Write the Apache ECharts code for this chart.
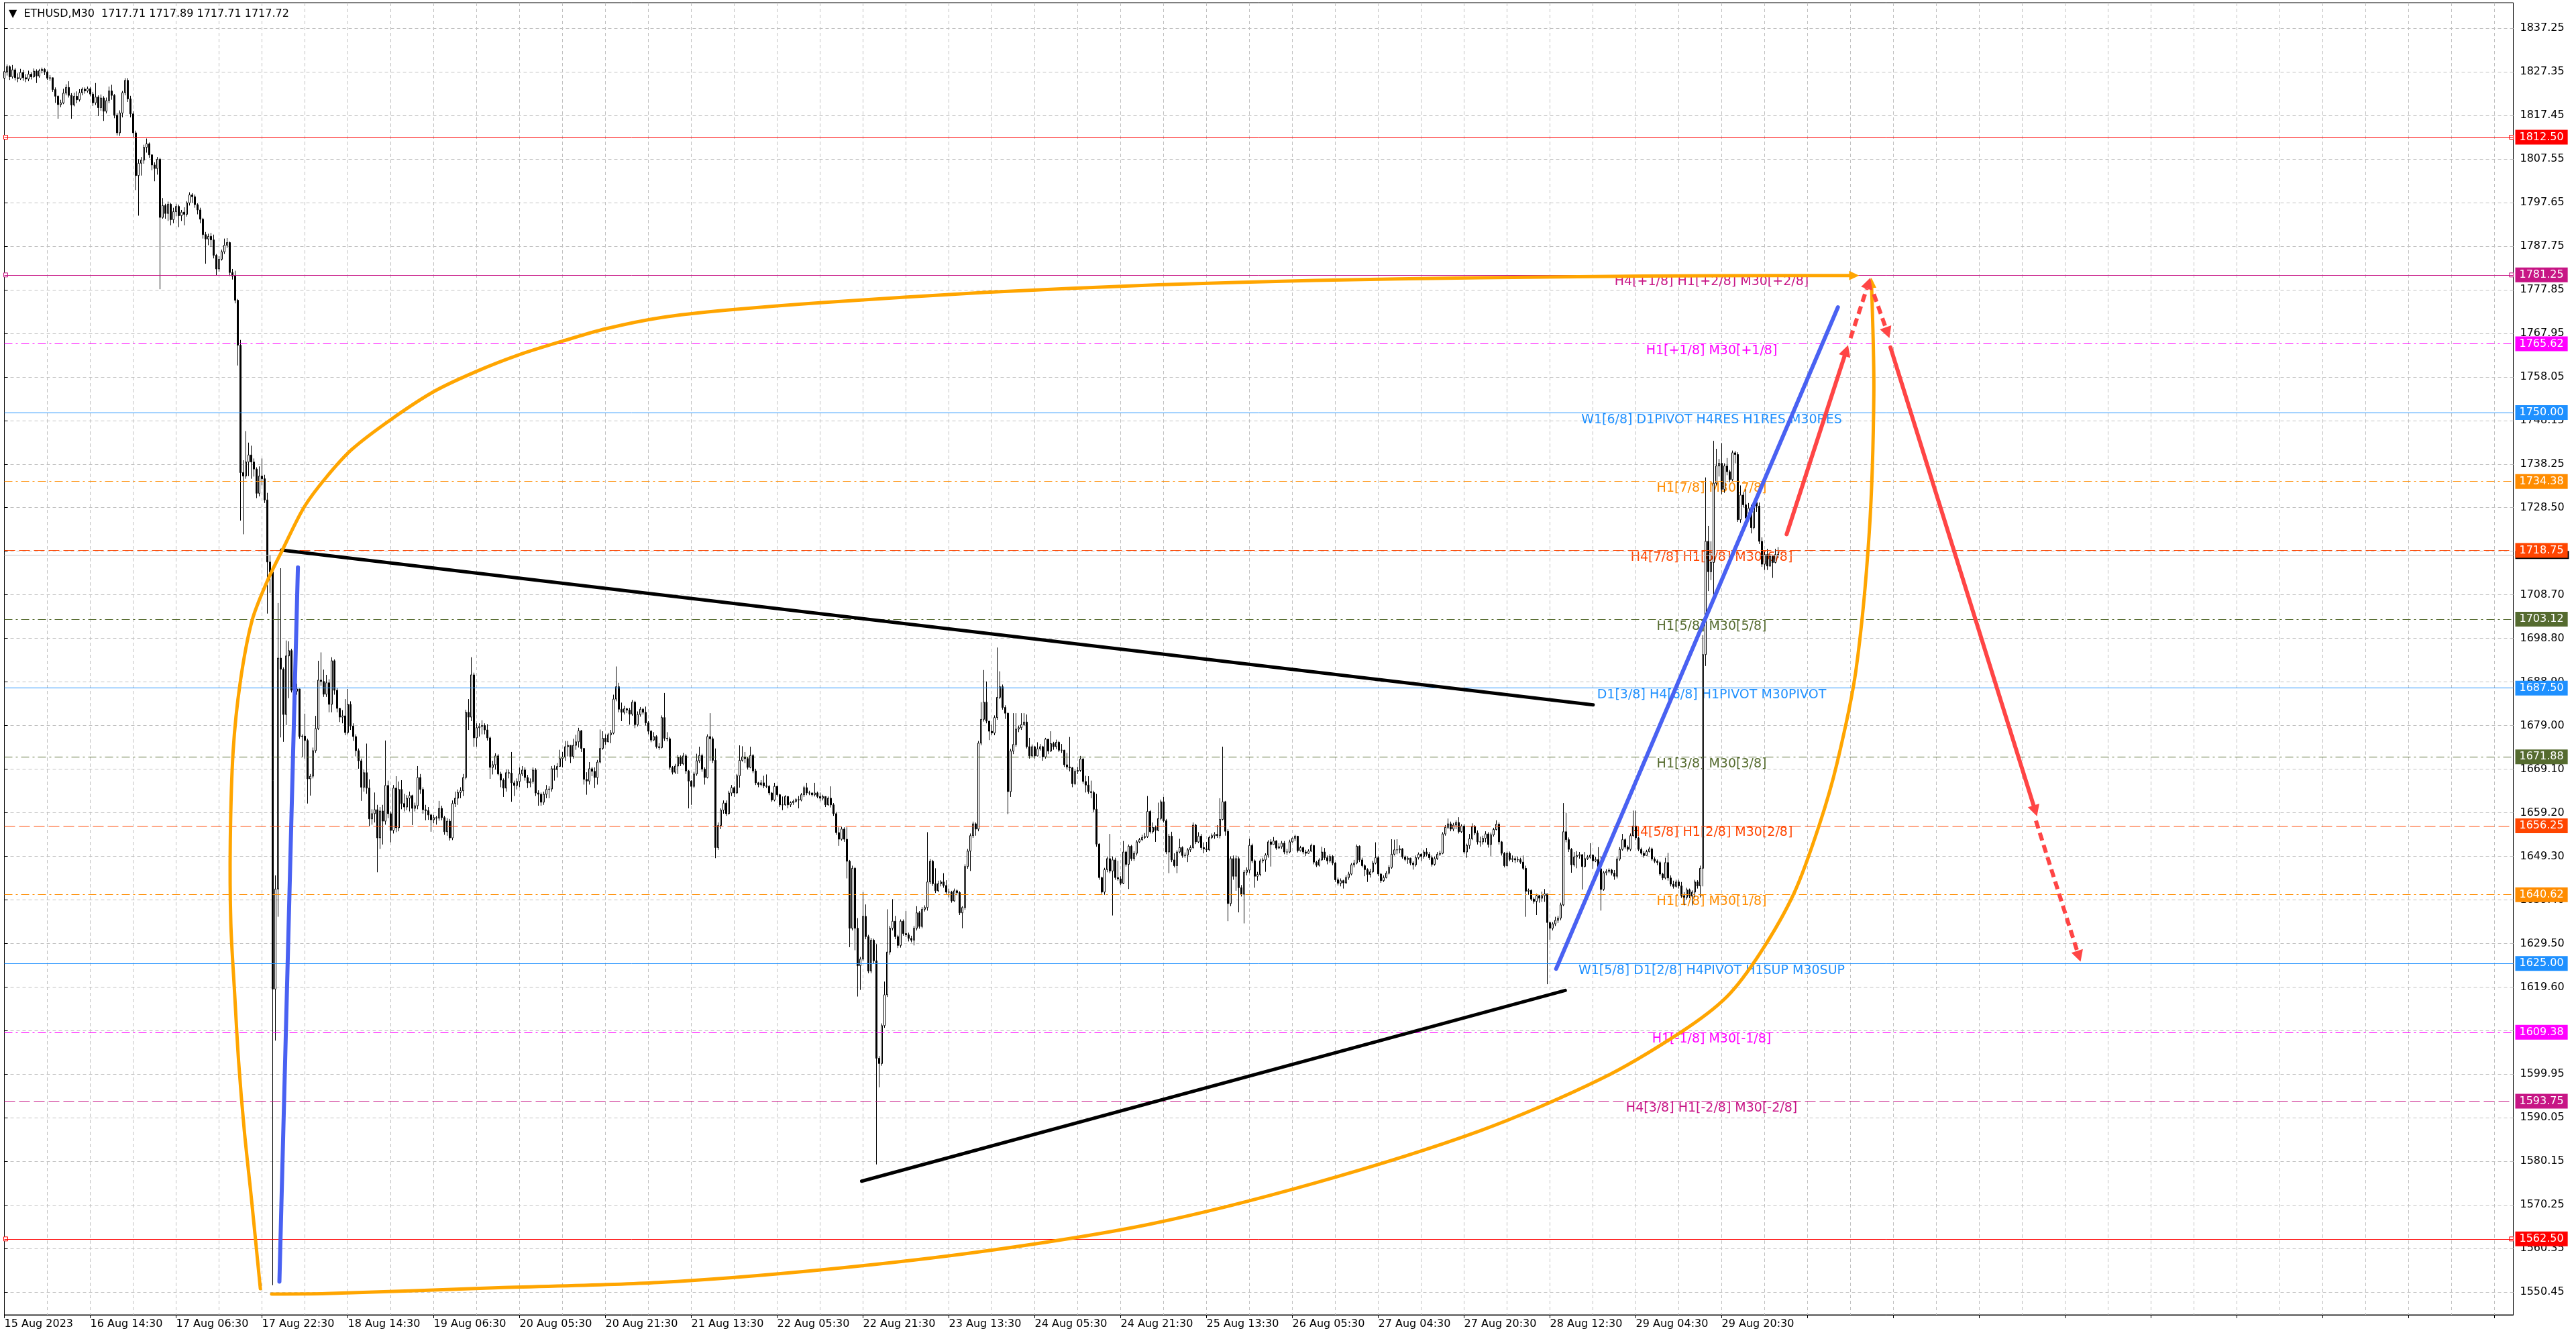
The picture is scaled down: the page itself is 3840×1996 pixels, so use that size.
<!DOCTYPE html>
<html><head><meta charset="utf-8">
<script src="https://cdn.jsdelivr.net/npm/echarts@6/dist/echarts.min.js"></script>
<style>html,body{margin:0;padding:0;background:#fff;}#c{width:3840px;height:1996px;}</style>
</head><body><div id="c"></div>
<script>
// ---------------- data ----------------
const tickLabels = ['15 Aug 2023','16 Aug 14:30','17 Aug 06:30','17 Aug 22:30','18 Aug 14:30','19 Aug 06:30','20 Aug 05:30','20 Aug 21:30','21 Aug 13:30','22 Aug 05:30','22 Aug 21:30','23 Aug 13:30','24 Aug 05:30','24 Aug 21:30','25 Aug 13:30','26 Aug 05:30','27 Aug 04:30','27 Aug 20:30','28 Aug 12:30','29 Aug 04:30','29 Aug 20:30'];
const yTicks = [1550.45,1560.35,1570.25,1580.15,1590.05,1599.95,1609.85,1619.60,1629.50,1639.40,1649.30,1659.20,1669.10,1679.00,1688.90,1698.80,1708.70,1718.60,1728.50,1738.25,1748.15,1758.05,1767.95,1777.85,1787.75,1797.65,1807.55,1817.45,1827.35,1837.25];
const firstOpen = 1825.9;
const closes = [1827.4,1828.5,1826.2,1827.8,1826.0,1825.8,1827.2,1826.0,1825.7,1826.8,1826.2,1827.5,1826.4,1827.6,1827.9,1827.3,1825.9,1826.0,1823.3,1821.8,
1819.9,1820.3,1822.5,1823.8,1822.0,1819.8,1821.8,1821.0,1822.6,1823.4,1823.0,1823.5,1822.3,1820.3,1821.6,1819.2,1821.4,1818.4,1820.8,1823.0,
1822.0,1817.5,1813.5,1818.0,1822.6,1825.4,1821.2,1817.8,1813.5,1803.8,1806.6,1807.3,1810.2,1811.0,1808.5,1806.2,1805.4,1807.5,1794.3,1797.0,
1795.2,1797.3,1793.8,1795.6,1796.8,1794.7,1795.5,1795.0,1797.6,1799.4,1799.0,1797.2,1796.0,1793.9,1790.4,1789.4,1790.0,1789.2,1785.7,1782.6,
1784.8,1786.5,1788.0,1788.6,1781.8,1781.0,1775.5,1765.3,1736.4,1735.6,1738.8,1740.4,1738.8,1737.2,1731.7,1735.6,1735.0,1730.2,1716.1,1713.8,
1619.2,1641.9,1694.3,1691.8,1681.5,1694.8,1696.0,1687.0,1686.8,1687.3,1676.5,1676.6,1675.6,1666.9,1667.5,1673.3,1678.3,1689.3,1689.0,1686.1,
1688.7,1683.8,1693.7,1687.0,1682.9,1680.9,1681.2,1677.4,1683.8,1678.9,1676.5,1673.3,1671.0,1665.0,1668.3,1664.8,1657.8,1659.0,1659.9,1653.5,
1659.6,1657.3,1665.4,1659.0,1655.2,1664.8,1655.8,1664.5,1661.3,1660.5,1662.5,1663.1,1660.2,1660.8,1667.2,1664.5,1659.9,1659.7,1658.7,1657.6,
1658.1,1658.0,1660.2,1658.1,1654.9,1657.3,1653.5,1661.3,1662.5,1663.8,1664.2,1667.2,1682.0,1680.9,1690.5,1676.2,1678.5,1678.8,1679.0,1678.0,
1676.2,1669.5,1670.1,1672.1,1668.0,1666.6,1664.8,1668.3,1668.2,1666.0,1665.4,1666.3,1668.0,1668.9,1667.2,1666.0,1666.3,1668.9,1663.7,1663.4,
1661.6,1663.4,1664.5,1664.6,1669.2,1669.0,1669.7,1671.5,1671.8,1674.2,1674.5,1672.0,1674.5,1675.3,1677.8,1673.8,1666.8,1666.4,1669.2,1668.6,
1667.2,1670.7,1673.8,1676.1,1675.3,1676.9,1677.3,1685.0,1687.8,1682.7,1682.0,1682.8,1682.5,1681.6,1684.3,1679.2,1681.5,1682.7,1682.0,1679.6,
1677.7,1675.7,1676.5,1674.2,1674.0,1680.8,1676.1,1676.0,1669.5,1668.4,1669.8,1671.8,1670.3,1672.1,1668.7,1666.4,1665.2,1668.0,1671.0,1672.2,
1669.1,1667.2,1676.5,1676.0,1671.1,1651.3,1656.3,1659.8,1661.4,1659.0,1663.7,1664.9,1663.7,1667.6,1671.1,1671.9,1671.5,1669.5,1672.2,1668.7,
1666.0,1665.6,1666.0,1665.3,1665.2,1663.7,1662.1,1665.2,1663.3,1661.0,1661.0,1662.9,1661.0,1661.5,1661.8,1662.2,1662.1,1663.3,1664.9,1663.7,
1663.7,1663.3,1663.7,1662.9,1662.5,1662.9,1661.0,1662.5,1661.0,1659.0,1654.7,1653.2,1655.5,1653.2,1648.2,1633.0,1646.6,1633.0,1624.5,1626.0,
1635.7,1631.1,1623.3,1630.3,1625.6,1603.5,1602.3,1610.9,1617.9,1627.6,1633.0,1634.6,1631.1,1629.1,1634.6,1631.8,1631.5,1630.7,1630.3,1633.0,
1636.5,1633.4,1637.3,1637.7,1643.5,1648.2,1643.1,1641.5,1643.1,1643.5,1642.7,1641.2,1641.2,1639.2,1641.5,1641.1,1636.5,1637.7,1647.0,1650.5,
1654.0,1656.7,1655.5,1675.0,1680.4,1684.3,1680.0,1677.7,1677.3,1680.8,1685.4,1687.8,1683.1,1681.8,1664.0,1673.2,1674.7,1678.2,1678.5,1679.2,
1679.8,1674.2,1672.1,1674.2,1672.1,1673.7,1674.2,1671.9,1675.9,1673.2,1674.9,1674.2,1675.2,1673.4,1673.4,1670.1,1669.6,1669.4,1665.8,1668.6,
1668.8,1671.4,1666.3,1665.5,1664.0,1663.8,1660.0,1652.1,1644.5,1641.2,1646.3,1648.8,1646.0,1648.5,1644.5,1644.2,1643.2,1650.3,1647.5,1651.6,
1648.8,1650.0,1652.6,1653.1,1653.6,1653.8,1659.5,1654.9,1655.9,1655.2,1657.9,1661.7,1657.4,1650.3,1653.9,1648.5,1647.2,1650.3,1651.3,1649.5,
1649.6,1650.8,1651.3,1656.4,1652.6,1653.9,1651.3,1651.0,1650.8,1653.6,1654.0,1654.3,1654.0,1657.7,1661.7,1655.0,1638.6,1648.8,1644.8,1648.8,
1642.2,1640.7,1645.7,1646.2,1651.8,1648.3,1644.8,1645.2,1648.3,1648.5,1649.6,1652.6,1652.0,1652.8,1651.2,1651.5,1652.3,1650.3,1650.3,1652.6,
1653.4,1653.9,1650.6,1651.3,1650.3,1650.0,1650.5,1651.8,1648.0,1647.3,1648.5,1650.3,1649.0,1648.3,1649.3,1647.8,1644.0,1643.2,1643.8,1643.3,
1644.5,1645.3,1647.4,1647.8,1651.6,1648.5,1647.2,1646.3,1645.2,1645.8,1647.8,1649.0,1645.3,1643.8,1644.5,1645.5,1646.8,1649.8,1650.8,1650.8,
1651.0,1649.2,1648.6,1648.9,1647.8,1647.4,1649.0,1649.8,1649.3,1650.3,1649.8,1649.0,1647.5,1648.8,1649.8,1650.0,1654.4,1655.9,1656.7,1655.5,
1656.4,1657.0,1654.9,1656.2,1650.3,1651.8,1653.3,1656.0,1654.6,1652.6,1652.6,1653.4,1654.4,1652.0,1654.2,1655.4,1656.6,1652.6,1650.0,1647.2,
1650.0,1648.6,1648.8,1648.5,1648.6,1648.0,1646.6,1641.4,1641.6,1639.6,1639.1,1640.4,1639.8,1640.4,1640.8,1634.3,1633.0,1634.0,1634.8,1635.3,
1638.3,1654.9,1653.1,1650.9,1647.4,1649.2,1649.5,1649.7,1647.0,1648.8,1649.1,1649.6,1648.3,1648.6,1646.5,1641.8,1645.6,1645.9,1646.2,1645.5,
1644.8,1648.7,1650.9,1653.1,1651.4,1650.9,1654.0,1656.2,1653.5,1650.9,1650.0,1649.5,1650.4,1651.0,1648.7,1648.2,1647.9,1645.3,1644.4,1647.9,
1644.4,1643.0,1642.5,1643.5,1642.6,1640.4,1640.0,1641.7,1640.3,1641.2,1643.5,1642.6,1646.6,1695.1,1720.8,1713.9,1716.0,1734.0,1737.9,1738.5,
1732.6,1737.9,1736.6,1734.8,1740.9,1740.5,1725.7,1731.3,1729.1,1726.1,1728.3,1723.9,1729.6,1728.8,1720.8,1715.6,1717.8,1715.2,1717.4,1716.0,1717.8,1717.72];
const highs = [1828.6,1829.0,1828.8,1828.9,1828.2,1827.0,1828.0,1827.8,1826.8,1827.6,1827.2,1828.1,1827.9,1828.0,1828.3,1828.2,1827.6,1826.6,1826.0,1823.8,
1822.0,1821.0,1823.5,1824.5,1825.2,1822.5,1822.6,1822.9,1823.4,1823.8,1823.8,1824.0,1823.9,1822.8,1824.8,1822.0,1822.2,1821.8,1821.5,1824.0,
1824.4,1822.3,1818.0,1818.6,1823.0,1825.9,1825.9,1821.9,1818.4,1814.0,1807.5,1808.0,1810.8,1812.2,1811.3,1808.6,1806.8,1808.0,1807.8,1798.7,
1797.4,1797.9,1797.6,1796.5,1797.4,1797.2,1796.0,1796.6,1798.0,1800.0,1799.8,1799.5,1797.5,1796.5,1794.2,1791.0,1790.6,1790.8,1790.4,1786.0,
1785.5,1787.0,1789.5,1789.6,1788.8,1782.6,1782.2,1775.8,1766.5,1739.2,1745.8,1743.2,1742.5,1739.6,1737.6,1737.8,1739.6,1735.9,1731.8,1717.6,
1714.6,1645.0,1706.8,1714.7,1692.2,1698.3,1698.1,1696.4,1688.0,1688.5,1687.0,1677.0,1681.7,1676.0,1668.0,1674.0,1681.2,1693.7,1695.6,1691.7,
1690.5,1689.5,1694.5,1694.0,1687.5,1683.0,1682.5,1685.0,1687.3,1684.5,1679.5,1677.0,1673.8,1671.5,1669.0,1674.9,1666.8,1660.0,1663.8,1661.0,
1660.5,1661.0,1675.6,1666.5,1659.5,1665.5,1667.5,1666.3,1666.6,1663.5,1663.2,1664.0,1663.3,1661.5,1669.8,1668.0,1665.0,1661.0,1660.5,1659.0,
1658.7,1658.5,1661.9,1660.8,1658.5,1658.0,1657.8,1662.0,1664.0,1664.5,1665.0,1668.0,1682.6,1685.0,1694.5,1691.0,1679.5,1679.5,1680.2,1679.5,
1679.3,1676.5,1671.0,1672.7,1672.5,1668.5,1667.0,1669.0,1669.0,1673.0,1666.5,1667.0,1669.5,1669.8,1669.5,1667.8,1667.0,1669.5,1669.3,1664.3,
1663.8,1664.0,1665.5,1665.2,1669.8,1670.0,1670.5,1673.5,1673.0,1675.5,1675.5,1673.5,1676.0,1676.9,1678.5,1678.0,1673.9,1668.4,1670.7,1669.6,
1669.5,1671.2,1678.1,1677.7,1677.0,1677.3,1678.0,1686.0,1692.4,1688.7,1684.2,1683.5,1683.0,1683.0,1684.8,1684.6,1682.2,1683.2,1683.0,1683.3,
1680.0,1678.0,1677.5,1676.8,1675.0,1681.3,1686.4,1677.5,1676.4,1669.8,1670.3,1672.3,1672.2,1672.8,1672.5,1668.9,1666.6,1668.5,1672.6,1674.2,
1672.6,1669.5,1677.0,1681.8,1676.5,1673.8,1657.0,1660.2,1662.0,1662.0,1664.2,1665.5,1665.2,1668.0,1674.5,1674.3,1673.0,1671.8,1674.2,1672.5,
1669.2,1666.2,1666.6,1667.6,1667.9,1665.5,1663.9,1666.0,1665.4,1663.5,1662.9,1663.2,1661.5,1661.8,1662.2,1662.5,1663.0,1663.7,1665.3,1666.0,
1664.2,1663.8,1666.0,1664.0,1663.8,1663.3,1662.6,1662.9,1665.2,1661.4,1659.4,1655.9,1656.0,1655.9,1655.9,1648.5,1647.2,1646.9,1635.3,1626.5,
1641.2,1638.4,1631.5,1630.8,1630.6,1629.4,1604.0,1611.4,1620.9,1637.3,1633.5,1639.6,1635.8,1631.5,1635.0,1635.0,1636.9,1632.0,1631.3,1633.5,
1638.0,1636.9,1637.8,1638.2,1654.8,1648.7,1648.5,1646.6,1643.8,1643.9,1645.5,1643.9,1642.0,1641.5,1642.0,1641.8,1641.4,1638.0,1647.5,1651.0,
1654.5,1657.2,1657.0,1675.5,1684.3,1691.6,1689.0,1680.0,1679.2,1681.3,1696.7,1691.3,1688.3,1683.6,1681.9,1673.7,1681.8,1681.8,1679.0,1681.8,
1681.8,1681.5,1676.2,1674.7,1674.3,1675.2,1674.8,1674.4,1676.2,1675.8,1677.7,1675.3,1675.8,1675.5,1674.8,1673.5,1672.8,1676.4,1669.6,1669.0,
1669.6,1672.1,1671.6,1667.6,1667.5,1666.5,1664.2,1663.5,1652.3,1644.7,1646.7,1649.3,1654.4,1649.3,1649.0,1648.3,1644.8,1652.8,1650.6,1652.0,
1651.9,1650.5,1653.0,1653.5,1654.2,1654.6,1663.0,1659.8,1657.0,1656.3,1661.5,1662.2,1662.8,1657.8,1654.4,1654.9,1650.0,1650.7,1653.3,1651.6,
1650.2,1651.2,1651.8,1657.0,1656.7,1654.8,1654.4,1652.5,1652.6,1654.0,1654.5,1654.8,1656.4,1662.5,1674.2,1661.9,1655.5,1649.3,1649.5,1649.5,
1649.2,1642.8,1646.2,1646.8,1653.3,1652.2,1648.6,1645.8,1648.8,1649.0,1650.0,1653.0,1653.2,1653.7,1653.0,1652.3,1652.8,1652.8,1651.0,1653.1,
1653.6,1654.2,1653.9,1651.7,1651.5,1650.8,1650.9,1652.2,1649.0,1648.3,1648.9,1651.5,1651.2,1649.5,1649.8,1649.6,1648.0,1644.5,1644.3,1644.0,
1645.0,1645.8,1647.8,1648.5,1652.0,1651.8,1649.0,1647.5,1646.6,1646.5,1648.3,1652.5,1649.4,1645.5,1645.0,1646.0,1647.3,1653.2,1653.1,1653.2,
1651.8,1651.2,1649.5,1649.3,1649.0,1648.2,1649.5,1650.2,1650.0,1650.8,1651.2,1650.3,1649.5,1649.3,1650.3,1650.6,1654.8,1656.4,1657.9,1657.2,
1656.9,1657.5,1658.2,1656.6,1656.6,1652.2,1654.4,1656.8,1656.4,1655.2,1653.8,1654.0,1655.0,1654.8,1654.7,1655.8,1657.5,1657.0,1652.8,1650.3,
1650.4,1650.4,1649.5,1649.2,1649.3,1649.0,1649.5,1647.2,1642.0,1641.8,1640.0,1640.8,1640.6,1641.3,1641.9,1640.8,1634.5,1634.4,1635.6,1635.8,
1638.8,1661.4,1659.2,1653.6,1651.2,1650.3,1650.5,1650.3,1649.8,1650.3,1649.6,1652.3,1649.8,1649.2,1651.4,1649.3,1646.0,1646.4,1646.6,1646.5,
1646.2,1649.2,1651.4,1654.4,1653.4,1651.8,1654.5,1659.7,1659.7,1653.8,1651.3,1650.5,1650.8,1651.5,1651.3,1649.1,1648.6,1648.3,1645.6,1649.0,
1650.1,1645.0,1643.8,1644.0,1644.0,1643.5,1641.2,1642.2,1642.0,1641.6,1644.0,1643.9,1647.2,1699.5,1735.3,1724.3,1720.8,1743.6,1741.8,1739.5,
1743.1,1738.5,1739.7,1737.0,1741.4,1741.3,1741.0,1733.5,1732.0,1732.6,1729.5,1729.1,1730.2,1730.0,1729.6,1721.7,1718.4,1719.1,1717.9,1717.2,1719.1,1719.5];
const lows = [1820.0,1826.5,1825.5,1825.8,1825.4,1825.0,1825.5,1825.3,1825.0,1825.2,1825.6,1826.0,1824.8,1826.0,1827.0,1826.6,1825.5,1825.3,1822.8,1820.3,
1816.7,1819.3,1820.0,1822.0,1821.5,1816.7,1819.5,1820.2,1820.6,1822.0,1822.4,1822.6,1821.8,1819.6,1819.8,1817.3,1818.5,1816.2,1817.9,1820.2,
1821.0,1816.8,1812.9,1812.8,1817.0,1822.0,1820.5,1817.0,1812.5,1800.5,1794.7,1803.8,1806.5,1809.0,1807.8,1805.0,1802.5,1804.0,1778.0,1794.0,
1794.0,1793.5,1792.5,1793.0,1794.6,1792.1,1793.5,1792.5,1794.5,1797.0,1797.6,1796.5,1795.0,1793.0,1789.5,1783.8,1788.0,1787.6,1785.0,1781.2,
1782.0,1784.5,1786.0,1787.4,1781.0,1780.2,1774.8,1760.7,1725.5,1722.4,1735.0,1735.6,1735.0,1735.5,1730.6,1731.0,1733.5,1729.5,1704.4,1709.1,
1552.0,1607.5,1635.6,1676.3,1675.3,1679.1,1685.2,1686.5,1685.8,1686.0,1676.0,1671.8,1671.5,1661.3,1663.1,1667.0,1672.8,1678.0,1688.0,1685.5,
1685.5,1682.0,1682.0,1686.0,1682.0,1679.8,1679.5,1676.8,1677.0,1678.0,1675.5,1672.0,1669.2,1661.9,1664.0,1663.5,1656.1,1656.5,1657.0,1645.7,
1651.0,1652.0,1656.5,1658.0,1652.5,1654.5,1654.8,1655.0,1660.0,1659.5,1659.8,1659.5,1656.4,1659.5,1660.0,1663.5,1659.0,1657.5,1657.6,1654.9,
1656.8,1656.5,1657.4,1657.5,1654.2,1654.0,1652.9,1653.0,1660.5,1661.0,1662.5,1663.0,1666.8,1678.0,1680.0,1674.2,1674.2,1676.5,1677.0,1677.0,
1675.6,1666.9,1667.9,1669.0,1667.7,1665.0,1662.8,1664.0,1667.0,1661.7,1663.0,1664.5,1665.0,1667.5,1666.5,1664.8,1665.0,1665.8,1663.0,1660.8,
1660.8,1661.0,1662.5,1662.5,1664.0,1666.5,1667.2,1669.8,1669.5,1671.0,1672.0,1670.5,1671.5,1673.5,1674.0,1673.0,1665.6,1663.3,1665.6,1667.5,
1664.8,1665.6,1670.4,1673.5,1674.6,1675.2,1675.0,1677.0,1684.5,1682.0,1680.0,1681.5,1681.8,1679.2,1681.2,1678.4,1678.8,1681.0,1681.5,1679.0,
1677.0,1675.2,1675.5,1673.8,1673.5,1673.8,1675.5,1675.4,1669.0,1667.9,1668.0,1668.0,1669.8,1670.0,1668.0,1660.2,1661.0,1664.8,1667.6,1670.5,
1668.5,1665.6,1667.0,1671.0,1670.5,1648.9,1650.8,1655.5,1659.0,1658.5,1658.8,1663.0,1662.8,1663.5,1664.9,1670.8,1670.5,1669.0,1669.3,1668.2,
1665.5,1665.0,1665.2,1664.8,1664.8,1663.2,1661.7,1661.8,1662.9,1660.5,1659.8,1660.8,1660.2,1660.5,1661.0,1661.5,1660.2,1661.8,1662.8,1663.2,
1663.2,1662.9,1662.9,1662.5,1661.8,1662.0,1660.5,1660.8,1660.4,1658.5,1654.2,1651.7,1652.9,1652.6,1644.3,1628.7,1632.5,1628.0,1617.5,1619.0,
1625.5,1630.5,1622.8,1622.8,1625.0,1579.4,1596.9,1601.8,1610.4,1617.4,1627.0,1632.5,1630.5,1628.5,1628.6,1631.3,1631.0,1630.0,1629.8,1629.1,
1632.5,1632.9,1633.0,1636.8,1637.0,1643.0,1642.6,1641.0,1641.2,1642.5,1642.2,1640.8,1640.0,1638.8,1639.0,1640.5,1636.0,1633.0,1637.2,1646.5,
1646.0,1653.5,1654.0,1655.0,1674.5,1679.9,1679.5,1675.7,1676.8,1676.8,1680.3,1685.0,1682.6,1680.5,1658.9,1662.8,1672.5,1674.2,1677.5,1678.0,
1678.9,1673.8,1671.5,1671.9,1671.5,1672.0,1673.3,1671.0,1671.5,1672.5,1673.0,1673.5,1673.6,1673.0,1672.8,1669.6,1669.0,1668.6,1665.0,1665.5,
1668.0,1668.5,1665.8,1663.8,1663.5,1662.5,1659.4,1651.5,1644.0,1640.8,1640.6,1645.7,1645.5,1635.9,1644.0,1643.8,1642.8,1643.0,1647.0,1641.9,
1648.3,1648.3,1649.5,1652.3,1652.8,1653.2,1653.5,1654.5,1654.5,1652.6,1655.0,1657.5,1657.0,1649.8,1645.5,1648.0,1646.8,1645.5,1650.0,1649.0,
1649.0,1648.0,1650.3,1651.0,1652.1,1652.3,1650.8,1650.0,1650.3,1650.5,1653.2,1653.3,1653.5,1653.4,1657.5,1654.0,1634.6,1638.0,1644.0,1641.5,
1636.6,1640.2,1634.1,1645.0,1645.5,1647.8,1642.2,1643.8,1644.8,1647.8,1645.8,1649.0,1647.0,1652.0,1650.8,1651.0,1651.0,1649.8,1649.7,1650.0,
1652.4,1652.8,1650.2,1650.4,1649.8,1649.4,1649.9,1650.3,1647.5,1646.9,1647.0,1648.3,1648.5,1647.5,1647.9,1647.3,1643.5,1642.7,1642.5,1642.0,
1643.0,1644.0,1645.0,1646.8,1647.5,1648.0,1646.8,1644.8,1643.5,1644.5,1645.5,1647.5,1644.8,1643.3,1643.5,1644.3,1645.2,1646.5,1649.5,1649.8,
1650.0,1648.8,1648.2,1647.6,1647.3,1646.3,1647.0,1648.6,1648.2,1648.8,1649.3,1648.5,1647.0,1647.2,1648.5,1649.4,1649.8,1654.0,1655.5,1655.0,
1655.0,1655.5,1654.5,1654.6,1649.9,1649.0,1651.0,1653.0,1654.1,1652.0,1651.5,1652.0,1652.5,1651.3,1649.4,1653.8,1655.2,1652.0,1649.5,1646.8,
1647.0,1648.2,1648.0,1647.8,1648.0,1647.6,1646.2,1635.6,1640.6,1639.2,1638.6,1636.0,1638.8,1639.0,1639.0,1620.3,1630.4,1632.5,1633.5,1634.2,
1634.8,1638.0,1652.5,1650.3,1645.6,1647.0,1646.6,1648.8,1641.8,1646.8,1648.5,1648.8,1646.5,1648.0,1646.0,1637.0,1641.5,1645.0,1645.5,1645.0,
1644.0,1644.3,1648.3,1650.6,1651.0,1650.4,1650.5,1653.8,1653.0,1650.5,1649.6,1649.0,1649.5,1650.2,1648.3,1647.8,1647.3,1644.9,1643.9,1644.1,
1643.8,1642.5,1642.0,1642.2,1642.0,1639.9,1638.2,1639.5,1639.8,1638.2,1640.0,1642.0,1640.0,1642.5,1692.5,1709.5,1712.0,1708.6,1733.5,1735.5,
1731.5,1731.8,1735.8,1734.2,1734.5,1738.5,1725.2,1725.0,1728.5,1725.5,1727.5,1722.6,1723.5,1727.5,1720.2,1715.0,1714.3,1714.3,1715.0,1712.5,1715.8,1717.0];
const bidPrice = 1717.72;

// level lines
const levelPrices = [1812.50,1781.25,1765.62,1750.00,1734.38,1718.75,1703.12,1687.50,1671.88,1656.25,1640.62,1625.00,1609.38,1593.75,1562.50];
const levelColors = ['#FF0000','#C71585','#FF00FF','#1E90FF','#FF8C00','#FF4500','#556B2F','#1E90FF','#556B2F','#FF4500','#FF8C00','#1E90FF','#FF00FF','#C71585','#FF0000'];
const levelStyles = ['solid','solid','dashdot','solid','dashdot','dash','dashdot','solid','dashdot','dash','dashdot','solid','dashdot','dash','solid'];
const levelTexts = ['','H4[+1/8] H1[+2/8] M30[+2/8]','H1[+1/8] M30[+1/8]','W1[6/8] D1PIVOT H4RES H1RES M30RES','H1[7/8] M30[7/8]','H4[7/8] H1[6/8] M30[6/8]','H1[5/8] M30[5/8]','D1[3/8] H4[6/8] H1PIVOT M30PIVOT','H1[3/8] M30[3/8]','H4[5/8] H1[2/8] M30[2/8]','H1[1/8] M30[1/8]','W1[5/8] D1[2/8] H4PIVOT H1SUP M30SUP','H1[-1/8] M30[-1/8]','H4[3/8] H1[-2/8] M30[-2/8]',''];
const levelMarked = [true,true,false,false,false,false,false,false,false,false,false,false,false,false,true];
const levelTextBar = 636.25;

// drawings (bar index, price)
const blackLines = [[[103.3,1718.8],[592.1,1683.7]],[[319.5,1575.6],[581.7,1618.9]]];
const blueLines = [[[102.5,1552.8],[109.4,1714.9]],[[578.3,1623.8],[683.3,1773.9]]];
const orangeArcA = [[95.4,1551.2],[92.1,1571.5],[89.4,1587.2],[87.3,1602.8],[85.8,1618.4],[84.4,1634.1],[84.2,1652.8],[85.25,1673.1],[87.9,1688.8],[92.3,1702.8],[98.0,1711.8],[103.6,1718.8],[111.6,1728.45],[119.65,1735.1],[129.5,1741.65],[144.2,1748.5],[160.25,1754.85],[176.1,1759.4],[192.15,1763.2],[208.1,1766.25],[224.2,1769.05],[245,1771.6],[270,1773.3],[305,1775.0],[366,1777.3],[430,1779.0],[488.5,1780.0],[550,1780.6],[611,1781.0],[660,1781.1],[691.25,1781.1]];
const orangeArcB = [[99.6,1550.0],[120,1550.1],[182.4,1551.4],[243.7,1552.6],[304.9,1555.5],[366.2,1559.8],[427.3,1565.9],[488.5,1575.2],[549.8,1587.0],[595,1598.8],[625,1609.5],[642,1617.5],[654.6,1627.6],[667,1641.0],[676.25,1656.2],[683,1670.5],[690,1691.4],[695,1722.9],[696.7,1754.3],[695.8,1780.6]];
const redArrows = [[[664.2,1722.4],[687.1,1765.3],'solid'],[[688,1766.9],[695.4,1780.6],'dash'],[[696.7,1776.9],[702.5,1766.9],'dash'],[[702.9,1764.8],[757.5,1658.4],'solid'],[[757.1,1657.4],[773.75,1625.4],'dash']];

// ---------------- chart ----------------
const FONT = 'DejaVu Sans';
const N = 936;
const slots = [];
for (let i = 0; i < N; i++) slots.push(String(i));
const nBars = Math.min(closes.length, highs.length, lows.length);
const candles = [];
for (let i = 0; i < nBars; i++) {
  const o = i === 0 ? firstOpen : closes[i - 1];
  const c = closes[i];
  candles.push([o, c, Math.min(lows[i], o, c), Math.max(highs[i], o, c)]);
}
function dashOf(s) { return s === 'dash' ? [16, 6] : s === 'dashdot' ? [12, 5, 3, 5] : 'solid'; }
function boxLabel(color, text) {
  return { show: true, position: 'end', distance: 3, formatter: text, color: '#fff', backgroundColor: color,
    padding: [3, 6, 2, 6], fontFamily: FONT, fontSize: 16, lineHeight: 17 };
}
const bidLabel = { show: true, position: 'end', distance: 3, formatter: bidPrice.toFixed(2), color: '#000', backgroundColor: '#000000',
  padding: [2, 6, 2, 6], width: 68, fontFamily: FONT, fontSize: 8, lineHeight: 8 };
const markData = [{ yAxis: bidPrice, lineStyle: { color: '#C0C0C0', type: 'solid', width: 1 }, label: bidLabel }];
levelPrices.forEach((v, i) => {
  markData.push({ yAxis: v, lineStyle: { color: levelColors[i], type: dashOf(levelStyles[i]), width: 1 }, label: boxLabel(levelColors[i], v.toFixed(2)) });
});

function head(p1, p2, L, W) {
  const dx = p2[0] - p1[0], dy = p2[1] - p1[1];
  const len = Math.hypot(dx, dy) || 1;
  const ux = dx / len, uy = dy / len;
  const bx = p2[0] - ux * L, by = p2[1] - uy * L;
  return { base: [bx, by], pts: [[p2[0], p2[1]], [bx - uy * W, by + ux * W], [bx + uy * W, by - ux * W]] };
}

const textRows = [];
levelTexts.forEach((t, i) => { if (t) textRows.push([levelTextBar, levelPrices[i], i]); });
const markerRows = [];
levelPrices.forEach((v, i) => { if (levelMarked[i]) { markerRows.push([0.5, v]); markerRows.push([934.3, v]); } });

const option = {
  animation: false,
  backgroundColor: '#ffffff',
  title: { text: '\u25BC  ETHUSD,M30  1717.71 1717.89 1717.71 1717.72', left: 8, top: 8,
    textStyle: { fontFamily: FONT, fontSize: 16, fontWeight: 'normal', color: '#000' } },
  grid: { left: 6.5, right: 93.5, top: 4, bottom: 36, show: true, borderColor: '#000', borderWidth: 1 },
  xAxis: [{
    type: 'category', data: slots, boundaryGap: false,
    axisLine: { show: true, lineStyle: { color: '#000', width: 1 } },
    axisTick: { show: true, interval: 31, length: 5, lineStyle: { color: '#000' } },
    axisLabel: { interval: 31, align: 'left', margin: 6, fontFamily: FONT, fontSize: 16, color: '#000',
      formatter: (v, i) => tickLabels[i / 32] || '' },
    splitLine: { show: true, interval: 15, lineStyle: { color: '#C0C0C0', type: [5, 4], width: 1 } }
  }, { type: 'value', min: 0, max: N - 1, show: false }],
  yAxis: {
    type: 'value', position: 'right', min: 1545.27, max: 1843.03,
    axisLine: { show: true, lineStyle: { color: '#000', width: 1 } },
    axisTick: { show: true, customValues: yTicks, length: 5, lineStyle: { color: '#000' } },
    axisLabel: { customValues: yTicks, margin: 10, fontFamily: FONT, fontSize: 16, color: '#000', formatter: v => v.toFixed(2) },
    splitLine: { show: true, lineStyle: { color: '#C0C0C0', type: [5, 4], width: 1 } }
  },
  series: [
    { type: 'custom', name: 'levelText', xAxisIndex: 1, yAxisIndex: 0, z: 1, data: textRows,
      renderItem: (params, api) => {
        const r = textRows[params.dataIndex];
        const p = api.coord([r[0], r[1]]);
        return { type: 'text', style: { text: levelTexts[r[2]], x: p[0], y: p[1] + 1, fill: levelColors[r[2]],
          font: '19px "DejaVu Sans"', align: 'center', verticalAlign: 'top', textAlign: 'center', textVerticalAlign: 'top' } };
      } },
    { type: 'candlestick', name: 'ETHUSD', xAxisIndex: 0, yAxisIndex: 0, z: 2, data: candles, barWidth: 2, large: false,
      itemStyle: { color: '#ffffff', color0: '#000000', borderColor: '#000000', borderColor0: '#000000', borderWidth: 1 },
      markLine: { silent: true, symbol: ['none', 'none'], animation: false, data: markData } },
    { type: 'custom', name: 'markers', xAxisIndex: 1, yAxisIndex: 0, z: 4, data: markerRows,
      renderItem: (params, api) => {
        const r = markerRows[params.dataIndex];
        const p = api.coord(r);
        const idx = levelPrices.indexOf(r[1]);
        return { type: 'rect', shape: { x: p[0] - 3, y: p[1] - 3, width: 6, height: 6 }, style: { fill: '#fff', stroke: levelColors[idx], lineWidth: 1 } };
      } },
    { type: 'custom', name: 'trendlines', xAxisIndex: 1, yAxisIndex: 0, z: 5,
      data: blackLines.map(s => s[0]).concat(blueLines.map(s => s[0])),
      renderItem: (params, api) => {
        const i = params.dataIndex;
        const isBlack = i < blackLines.length;
        const s = isBlack ? blackLines[i] : blueLines[i - blackLines.length];
        const a = api.coord(s[0]), b = api.coord(s[1]);
        return { type: 'line', shape: { x1: a[0], y1: a[1], x2: b[0], y2: b[1] },
          style: { stroke: isBlack ? '#000000' : '#4961F2', lineWidth: isBlack ? 5 : 6, lineCap: 'round' } };
      } },
    { type: 'custom', name: 'arcs', xAxisIndex: 1, yAxisIndex: 0, z: 6, data: [orangeArcA[0], orangeArcB[0]],
      renderItem: (params, api) => {
        const arc = params.dataIndex === 0 ? orangeArcA : orangeArcB;
        const pts = arc.map(q => api.coord(q));
        const n = pts.length;
        const h = head(pts[n - 2], pts[n - 1], 15, 7);
        const linePts = pts.slice(0, n - 1).concat([h.base]);
        return { type: 'group', children: [
          { type: 'polyline', shape: { points: linePts, smooth: 0.3 }, style: { stroke: '#FFA500', lineWidth: 5, fill: null, lineCap: 'round', lineJoin: 'round' } },
          { type: 'polygon', shape: { points: h.pts }, style: { fill: '#FFA500' } }
        ] };
      } },
    { type: 'custom', name: 'arrows', xAxisIndex: 1, yAxisIndex: 0, z: 7, data: redArrows.map(r => r[0]),
      renderItem: (params, api) => {
        const r = redArrows[params.dataIndex];
        const a = api.coord(r[0]), b = api.coord(r[1]);
        const h = head(a, b, 17, 9);
        return { type: 'group', children: [
          { type: 'line', shape: { x1: a[0], y1: a[1], x2: h.base[0], y2: h.base[1] },
            style: { stroke: '#FF4545', lineWidth: 6, lineCap: r[2] === 'dash' ? 'butt' : 'round', lineDash: r[2] === 'dash' ? [12, 7] : null } },
          { type: 'polygon', shape: { points: h.pts }, style: { fill: '#FF4545' } }
        ] };
      } }
  ]
};
const chart = echarts.init(document.getElementById('c'), null, { renderer: 'canvas' });
chart.setOption(option);
</script>
</body></html>
